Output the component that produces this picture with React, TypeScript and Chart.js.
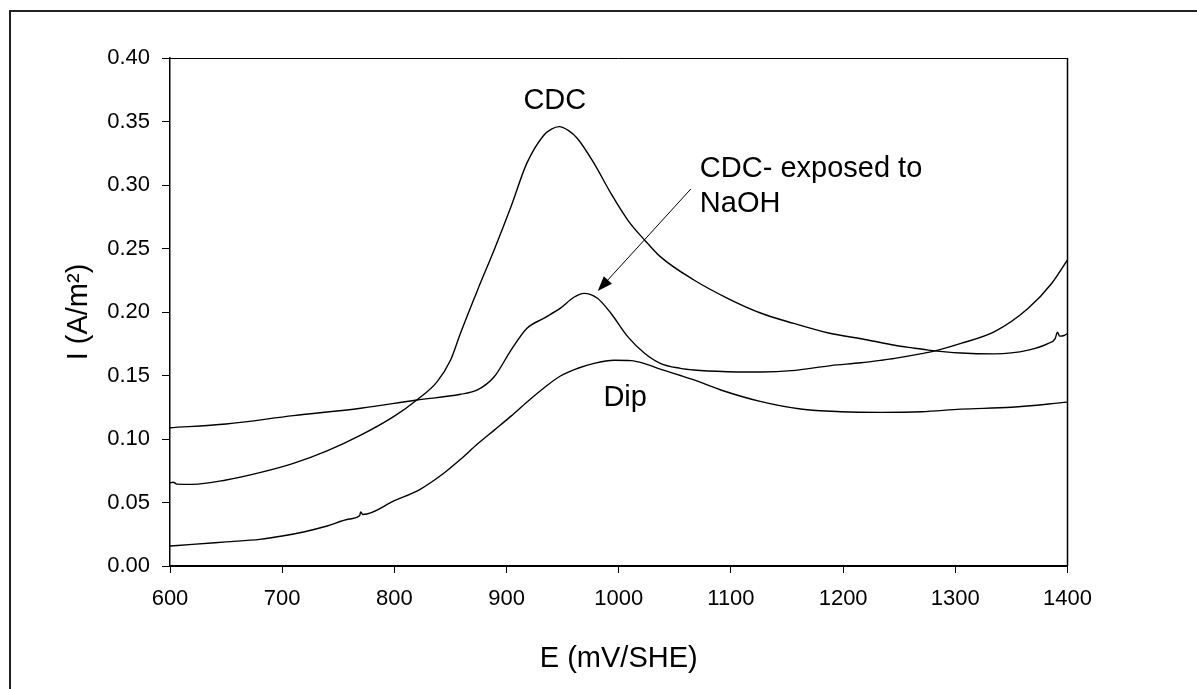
import React, { useEffect, useRef } from "react";
import { Chart, registerables } from "chart.js";

Chart.register(...registerables);

const FONT = "'Liberation Sans', Arial, Helvetica, sans-serif";

// Axis ticks
const xTickValues = [600, 700, 800, 900, 1000, 1100, 1200, 1300, 1400];
const yTickValues = [0, 0.05, 0.1, 0.15, 0.2, 0.25, 0.3, 0.35, 0.4];

// CDC
const cdcE = [600, 603, 606, 620, 650, 680, 710, 740, 770, 800, 820, 838, 850, 859, 874, 889, 904, 918, 933, 940, 947, 955, 963, 978, 993, 1008, 1023, 1037, 1067, 1097, 1127, 1156, 1186, 1222, 1246, 1264, 1276, 1305, 1335, 1365, 1383, 1389, 1391, 1393, 1397, 1400];
const cdcI = [0.0655, 0.066, 0.0645, 0.0643, 0.0677, 0.0735, 0.0808, 0.0906, 0.103, 0.118, 0.1307, 0.145, 0.162, 0.1835, 0.217, 0.249, 0.283, 0.317, 0.339, 0.344, 0.346, 0.343, 0.3368, 0.317, 0.2934, 0.2724, 0.2567, 0.2436, 0.2252, 0.2108, 0.199, 0.191, 0.1837, 0.178, 0.1738, 0.1715, 0.17, 0.1677, 0.167, 0.17, 0.1753, 0.179, 0.184, 0.181, 0.1815, 0.183];

// CDC exposed to NaOH
const naohE = [600, 650, 710, 770, 820, 859, 874, 889, 904, 918, 933, 948, 960, 969, 981, 993, 1008, 1023, 1037, 1055, 1067, 1097, 1115, 1127, 1154, 1189, 1216, 1234, 1246, 1270, 1281, 1305, 1335, 1365, 1386, 1400];
const naohI = [0.1089, 0.1118, 0.1184, 0.1242, 0.1307, 0.1352, 0.1386, 0.149, 0.17, 0.187, 0.195, 0.203, 0.2116, 0.2147, 0.2108, 0.199, 0.1806, 0.1675, 0.1596, 0.1556, 0.1543, 0.153, 0.1528, 0.1528, 0.1538, 0.1578, 0.16, 0.162, 0.1635, 0.1672, 0.1692, 0.1753, 0.1845, 0.2029, 0.2226, 0.241];

// Dip
const dipE = [600, 620, 650, 680, 700, 720, 740, 760, 769, 770, 772, 800, 823, 844, 859, 874, 889, 904, 918, 933, 948, 963, 978, 996, 1011, 1025, 1037, 1055, 1067, 1091, 1127, 1162, 1198, 1234, 1270, 1305, 1350, 1400];
const dipI = [0.0157, 0.017, 0.019, 0.021, 0.0236, 0.027, 0.0315, 0.037, 0.0395, 0.0425, 0.0405, 0.0514, 0.0604, 0.073, 0.084, 0.096, 0.107, 0.118, 0.129, 0.14, 0.1496, 0.1555, 0.1596, 0.162, 0.1617, 0.1588, 0.155, 0.15, 0.1465, 0.1386, 0.1294, 0.1236, 0.1215, 0.121, 0.1215, 0.1235, 0.125, 0.129];

// Annotations (data coordinates)
const cdcLabel = { text: "CDC", x: 943, y: 0.3598 };
const naohLabel = { lines: ["CDC- exposed to", "NaOH"], x: 1072.3, y: [0.3063, 0.2787] };
const dipLabel = { text: "Dip", x: 986.3, y: 0.126 };
const arrowFrom = { x: 1064.3, y: 0.2969 };
const arrowTo = { x: 981.3, y: 0.2165 };

const xTitle = "E (mV/SHE)";
const yTitle = "I (A/m²)";

const toPoints = (xs: number[], ys: number[]) => xs.map((x, i) => ({ x, y: ys[i] }));

const overlayPlugin = {
  id: "overlay",
  afterDraw(chart: any) {
    const { ctx, chartArea } = chart;
    const xs = chart.scales.x;
    const ys = chart.scales.y;
    ctx.save();
    // plot frame (top & right)
    ctx.strokeStyle = "#000";
    ctx.lineWidth = 1;
    ctx.beginPath();
    ctx.moveTo(chartArea.left, chartArea.top + 0.5);
    ctx.lineTo(chartArea.right, chartArea.top + 0.5);
    ctx.stroke();
    ctx.lineWidth = 1.5;
    ctx.beginPath();
    ctx.moveTo(chartArea.right, chartArea.top);
    ctx.lineTo(chartArea.right, chartArea.bottom);
    ctx.stroke();

    // outer border
    ctx.strokeStyle = "#222";
    ctx.lineWidth = 2;
    ctx.beginPath();
    ctx.moveTo(10, 689);
    ctx.lineTo(10, 11);
    ctx.lineTo(1197, 11);
    ctx.stroke();

    // texts
    ctx.fillStyle = "#000";
    ctx.font = `29px ${FONT}`;
    ctx.textBaseline = "alphabetic";
    ctx.textAlign = "center";
    ctx.fillText(cdcLabel.text, xs.getPixelForValue(cdcLabel.x), ys.getPixelForValue(cdcLabel.y));
    ctx.textAlign = "left";
    naohLabel.lines.forEach((t, i) => {
      ctx.fillText(t, xs.getPixelForValue(naohLabel.x), ys.getPixelForValue(naohLabel.y[i]));
    });
    ctx.fillText(dipLabel.text, xs.getPixelForValue(dipLabel.x), ys.getPixelForValue(dipLabel.y));

    // axis titles
    ctx.textAlign = "center";
    ctx.fillText(xTitle, (chartArea.left + chartArea.right) / 2, 667);
    ctx.save();
    ctx.translate(87, (chartArea.top + chartArea.bottom) / 2);
    ctx.rotate(-Math.PI / 2);
    ctx.fillText(yTitle, 0, 0);
    ctx.restore();

    // arrow
    const x1 = xs.getPixelForValue(arrowFrom.x);
    const y1 = ys.getPixelForValue(arrowFrom.y);
    const x2 = xs.getPixelForValue(arrowTo.x);
    const y2 = ys.getPixelForValue(arrowTo.y);
    const ang = Math.atan2(y2 - y1, x2 - x1);
    const len = 15;
    const hw = 5.5;
    const bx = x2 - len * Math.cos(ang);
    const by = y2 - len * Math.sin(ang);
    ctx.strokeStyle = "#000";
    ctx.lineWidth = 1;
    ctx.beginPath();
    ctx.moveTo(x1, y1);
    ctx.lineTo(bx, by);
    ctx.stroke();
    ctx.beginPath();
    ctx.moveTo(x2, y2);
    ctx.lineTo(bx + hw * Math.sin(ang), by - hw * Math.cos(ang));
    ctx.lineTo(bx - hw * Math.sin(ang), by + hw * Math.cos(ang));
    ctx.closePath();
    ctx.fill();
    ctx.restore();
  },
};

export default function App() {
  const ref = useRef<HTMLCanvasElement>(null);
  useEffect(() => {
    if (!ref.current) return;
    const lineStyle = {
      borderColor: "#000",
      borderWidth: 1.4,
      pointRadius: 0,
      fill: false,
      cubicInterpolationMode: "monotone" as const,
    };
    const chart = new Chart(ref.current, {
      type: "line",
      data: {
        datasets: [
          { label: "CDC", data: toPoints(cdcE, cdcI), ...lineStyle },
          { label: "CDC- exposed to NaOH", data: toPoints(naohE, naohI), ...lineStyle },
          { label: "Dip", data: toPoints(dipE, dipI), ...lineStyle },
        ],
      },
      options: {
        animation: false,
        responsive: false,
        layout: { padding: { top: 58, right: 129.5, left: 0, bottom: 0 } },
        plugins: { legend: { display: false }, tooltip: { enabled: false } },
        scales: {
          x: {
            type: "linear",
            min: 600,
            max: 1400,
            afterFit: (s: any) => {
              s.height = 123;
            },
            afterBuildTicks: (s: any) => {
              s.ticks = xTickValues.map((v) => ({ value: v }));
            },
            ticks: {
              font: { family: FONT, size: 22 },
              color: "#000",
              padding: 13,
              maxRotation: 0,
              autoSkip: false,
              callback: (v: any) => String(v),
            },
            grid: { drawOnChartArea: false, drawTicks: true, tickLength: 7, tickColor: "#000", tickWidth: 1 },
            border: { display: true, color: "#000", width: 2 },
          },
          y: {
            type: "linear",
            min: 0,
            max: 0.4,
            afterFit: (s: any) => {
              s.width = 170;
            },
            afterBuildTicks: (s: any) => {
              s.ticks = yTickValues.map((v) => ({ value: v }));
            },
            ticks: {
              font: { family: FONT, size: 22 },
              color: "#000",
              padding: 12,
              autoSkip: false,
              callback: (v: any) => Number(v).toFixed(2),
            },
            grid: { drawOnChartArea: false, drawTicks: true, tickLength: 8, tickColor: "#000", tickWidth: 1 },
            border: { display: true, color: "#000", width: 1.5 },
          },
        },
      },
      plugins: [overlayPlugin],
    });
    return () => chart.destroy();
  }, []);
  return (
    <div style={{ position: "fixed", left: 0, top: 0, width: 1197, height: 689, background: "#fff" }}>
      <canvas ref={ref} width={1197} height={689} style={{ display: "block" }} />
    </div>
  );
}
